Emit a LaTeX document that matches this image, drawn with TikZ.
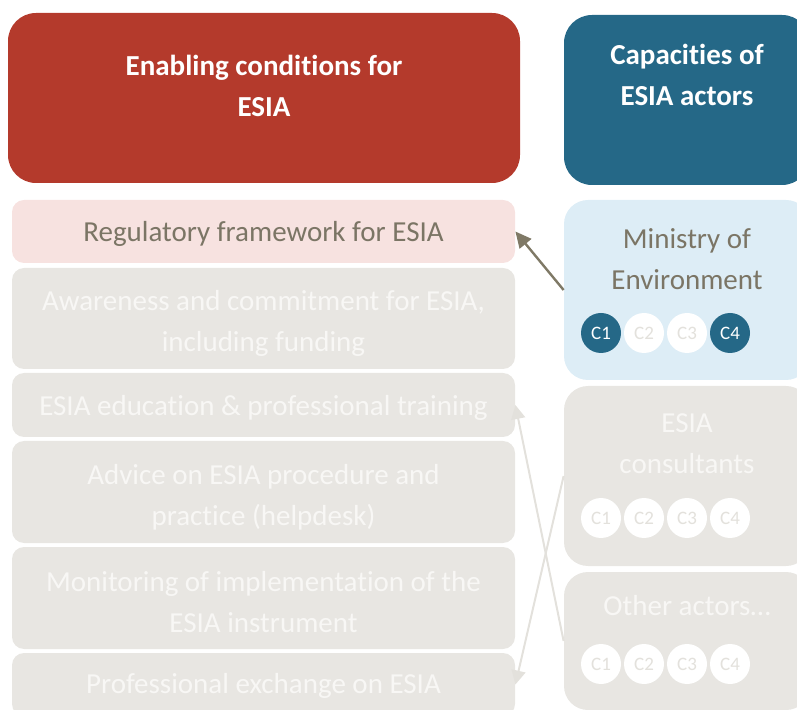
\documentclass[tikz,border=0pt]{standalone}
\usepackage{fontspec}
\setmainfont{Carlito}[Ligatures=NoCommon]
\usetikzlibrary{arrows.meta}

\definecolor{headred}{HTML}{B43A2C}
\definecolor{headblue}{HTML}{256887}
\definecolor{condpink}{HTML}{F7E2E0}
\definecolor{boxgray}{HTML}{E8E6E2}
\definecolor{actorblue}{HTML}{DDEDF6}
\definecolor{browntext}{HTML}{7B7565}
\definecolor{brownline}{HTML}{7F7966}
\definecolor{palegray}{HTML}{E3E1DC}
\definecolor{softwhite}{HTML}{F8F7F5}

\tikzset{
  txt/.style={inner sep=0pt, align=center, text=softwhite, font=\fontsize{14.5}{20.5}\selectfont},
  headbox/.style={rounded corners=14pt, minimum height=85pt},
  headtext/.style={txt, text=white, font=\bfseries\fontsize{14.5}{20.5}\selectfont},
  cond/.style={rounded corners=6pt, fill=boxgray, minimum width=251.5pt},
  actor/.style={rounded corners=12pt, fill=boxgray, minimum width=123pt},
  capdot/.style={circle, inner sep=0pt, minimum size=20pt, fill=white, text=palegray, font=\fontsize{9.5}{9.5}\selectfont},
  capon/.style={capdot, fill=headblue, text=white},
  link/.style={line width=1.2pt, brownline, -{Triangle[length=8pt,width=7.5pt]}},
  paleline/.style={line width=1pt, palegray, -{Triangle[length=7pt,width=7pt]}}
}

\begin{document}
\begin{tikzpicture}[x=0.5pt, y=-0.5pt]
\useasboundingbox (0,0) rectangle (797,710);
\clip (0,0) rectangle (797,710);

% column headers
\node[headbox, fill=headred, minimum width=256pt] (enab) at (264,98) {};
\node[headtext] (enab-t) at (264,86) {Enabling conditions for\\ESIA};
\node[headbox, fill=headblue, minimum width=123pt] (capa) at (687,100) {};
\node[headtext] (capa-t) at (687,75) {Capacities of\\ESIA actors};

% enabling conditions
\node[cond, fill=condpink, minimum height=31.5pt] (reg) at (263.5,231.5) {};
\node[txt, text=browntext] (reg-t) at (263.5,234) {Regulatory framework for ESIA};
\node[cond, minimum height=50.5pt] (aware) at (263.5,318.5) {};
\node[txt] (aware-t) at (263.5,323.5) {Awareness and commitment for ESIA,\\including funding};
\node[cond, minimum height=32pt] (edu) at (263.5,405) {};
\node[txt] (edu-t) at (263.5,407.5) {ESIA education \& professional training};
\node[cond, minimum height=51pt] (advice) at (263.5,492) {};
\node[txt] (advice-t) at (263.5,497) {Advice on ESIA procedure and\\practice (helpdesk)};
\node[cond, minimum height=51pt] (monit) at (263.5,598) {};
\node[txt] (monit-t) at (263.5,602.5) {Monitoring of implementation of the\\ESIA instrument};
\node[cond, minimum height=31.5pt] (exch) at (263.5,684.5) {};
\node[txt] (exch-t) at (263.5,686) {Professional exchange on ESIA};

% actors
\node[actor, fill=actorblue, minimum height=90pt] (min) at (687,290) {};
\node[txt, text=browntext] (min-t) at (687,259.5) {Ministry of\\Environment};
\node[actor, minimum height=90pt] (cons) at (687,476) {};
\node[txt] (cons-t) at (687,443.5) {ESIA\\consultants};
\node[actor, minimum height=69pt] (oth) at (687,641) {};
\node[txt] (oth-t) at (687,606) {Other actors…};

% capacities C1--C4
\foreach \i/\x/\s in {1/601/capon, 2/644/capdot, 3/687/capdot, 4/730/capon}
  \node[\s] (min-c\i) at (\x,333) {C\i};
\foreach \i/\x in {1/601, 2/644, 3/687, 4/730} {
  \node[capdot] (cons-c\i) at (\x,518) {C\i};
  \node[capdot] (oth-c\i) at (\x,664) {C\i};
}

% links
\draw[link] (min.west) -- (reg.east);
\draw[paleline] (cons.west) -- (exch.east);
\draw[paleline] (oth.west) -- (edu.east);
\end{tikzpicture}
\end{document}
